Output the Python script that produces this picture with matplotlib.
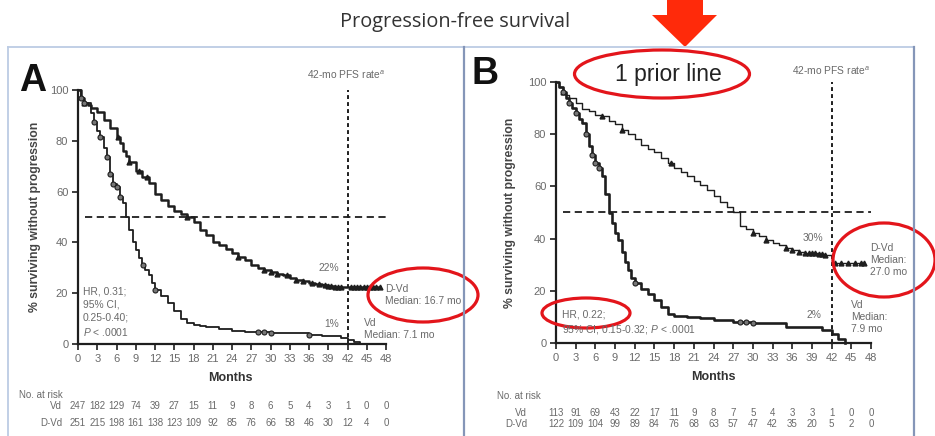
import numpy as np
import matplotlib
matplotlib.use('Agg')
import matplotlib.pyplot as plt
from matplotlib.patches import Ellipse, Polygon
from matplotlib.lines import Line2D
import matplotlib.transforms as mtransforms

plt.rcParams['font.family'] = ['Liberation Sans', 'DejaVu Sans']
plt.rcParams['mathtext.fontset'] = 'custom'
plt.rcParams['mathtext.it'] = 'Liberation Sans:italic'

# ---- data ----
months_ticks = np.arange(0, 49, 3)

# Panel A (all patients)
a_dvd_t = [0, 0.5, 1, 1.5, 2, 3, 4, 5, 6, 6.5, 7, 7.5, 8, 9, 10, 11, 12, 13, 14, 15, 16, 17, 18, 19,
           20, 21, 22, 23, 24, 25, 26, 27, 28, 29, 30, 31, 32, 33, 34, 35, 36, 37, 38, 39, 40, 41, 42, 47]
a_dvd_s = [100, 97, 95, 94, 93, 91.5, 88, 85, 81.6, 79, 76, 74, 71.8, 68, 65.9, 63.3, 59, 56.7, 54.5,
           52.5, 51, 50, 48, 45, 43, 40.3, 39, 37.5, 36, 34.4, 33, 31, 30, 29.1, 28.3, 27.5, 27, 26,
           25.3, 24.8, 24.2, 23.6, 23.2, 22.8, 22.6, 22.4, 22.3, 22.3]
a_vd_t = [0, 0.5, 1, 2, 2.5, 3, 3.5, 4, 4.5, 5, 5.5, 6, 6.5, 7, 7.5, 8, 8.5, 9, 9.5, 10, 10.5, 11,
          11.5, 12, 13, 14, 15, 16, 17, 18, 19, 20, 22, 24, 26, 30, 32, 36, 38, 40, 41, 42, 43, 44]
a_vd_s = [100, 97, 94.8, 91, 87.5, 84, 81.6, 77, 73.8, 67, 63, 62, 58, 55.4, 50, 45, 40, 37, 34, 31,
          29, 27, 24, 21.3, 19, 16, 13, 10, 8.1, 7.5, 7, 6.8, 6, 5, 4.9, 4.5, 4.3, 3.5, 3.3, 3, 2.2,
          1.6, 0.9, 0]
a_dvd_cens = [1, 6.2, 8, 9.5, 10.7, 17, 25, 29, 30, 31, 32.5, 34, 35, 36.5, 37.5, 38.5, 39, 39.5,
              40, 40.5, 41, 42.5, 43, 43.5, 44, 44.5, 45, 45.5, 46, 46.5, 47]
a_vd_cens = [0.5, 1, 2.5, 3.5, 4.5, 5, 5.5, 6, 6.5, 10.2, 12, 28, 29, 30, 36]
a_risk_vd = [247, 182, 129, 74, 39, 27, 15, 11, 9, 8, 6, 5, 4, 3, 1, 0, 0]
a_risk_dvd = [251, 215, 198, 161, 138, 123, 109, 92, 85, 76, 66, 58, 46, 30, 12, 4, 0]

# Panel B (1 prior line)
b_dvd_t = [0, 0.5, 1, 1.5, 2, 3, 4, 5, 6, 7, 8, 9, 10, 11, 12, 13, 14, 15, 16, 17, 18, 19, 20, 21,
           22, 23, 24, 25, 26, 27, 28, 29, 30, 31, 32, 33, 34, 35, 36, 37, 38, 39, 40, 41, 42, 47]
b_dvd_s = [100, 98, 96, 95, 94, 92, 89.5, 88.7, 87.5, 86.8, 85, 84, 81.7, 80, 78, 76, 74.5, 73, 71,
           69, 67, 65.5, 63.8, 62, 60.5, 58.5, 56.5, 54, 52, 50.3, 45, 43.5, 42, 41, 39.4, 38.5,
           37.5, 36.5, 35.5, 34.9, 34.5, 34.3, 34, 33.7, 30.5, 30.5]
b_vd_t = [0, 0.5, 1, 1.5, 2, 2.5, 3, 3.5, 4, 4.5, 5, 5.5, 6, 6.5, 7, 7.5, 8, 8.5, 9, 9.5, 10, 10.5,
          11, 11.5, 12, 13, 14, 15, 16, 17, 18, 20, 22, 24, 27, 30, 35, 37, 40.5, 42, 43, 44]
b_vd_s = [100, 98, 96, 94, 92, 90, 88, 86, 84.3, 80, 75.3, 72, 68.9, 67, 63.8, 57, 49.7, 46, 42,
          39.4, 35, 31, 27.9, 25, 22.8, 20.5, 18.9, 16.5, 13.8, 11.3, 10.5, 10, 9.5, 8.7, 8.2, 7.6,
          6.1, 6.1, 4.9, 3.6, 1.7, 0]
b_dvd_cens = [1, 7, 10, 17.5, 30, 32, 35, 36, 37, 38, 38.5, 39, 39.5, 40, 40.5, 41, 42.5, 43.5,
              44.5, 45.5, 46.5, 47]
b_vd_cens = [1, 2, 3, 4.5, 5.5, 6, 6.5, 12, 28, 29, 30]
b_risk_vd = [113, 91, 69, 43, 22, 17, 11, 9, 8, 7, 5, 4, 3, 3, 1, 0, 0]
b_risk_dvd = [122, 109, 104, 99, 89, 84, 76, 68, 63, 57, 47, 42, 35, 20, 5, 2, 0]

W, H = 935, 436
fig = plt.figure(figsize=(W / 100, H / 100), dpi=100)
fig.patch.set_facecolor('white')


def px(x, y):
    return x / W, 1 - y / H


def ftext(x, y, s, **kw):
    fx, fy = px(x, y)
    return fig.text(fx, fy, s, **kw)


def step_at(t, s, x):
    idx = np.searchsorted(t, x, side='right') - 1
    return np.asarray(s)[idx]


GRAY = '#6a6a6a'
INK = '#1e1e1e'
RED = '#e3151b'


def km_panel(rect, dvd_t, dvd_s, vd_t, vd_s, dvd_c, vd_c, lw_dvd, lw_vd):
    ax = fig.add_axes(rect)
    ax.plot(dvd_t, dvd_s, drawstyle='steps-post', color=INK, lw=lw_dvd, clip_on=False)
    ax.plot(vd_t, vd_s, drawstyle='steps-post', color=INK, lw=lw_vd, clip_on=False)
    ax.plot(dvd_c, step_at(dvd_t, dvd_s, dvd_c), ls='none', marker='^', ms=3.5,
            color=INK, clip_on=False)
    ax.plot(vd_c, step_at(vd_t, vd_s, vd_c), ls='none', marker='o', ms=3.6,
            mfc='#777777', mec=INK, mew=0.8, clip_on=False)
    ax.plot([1.1, 48], [50, 50], ls=(0, (4, 2.5)), color=INK, lw=1.3, clip_on=False)
    ax.plot([42, 42], [0, 100], ls=(0, (2, 1.6)), color=INK, lw=1.4, clip_on=False)
    ax.set_xlim(0, 48)
    ax.set_ylim(0, 100)
    ax.set_xticks(months_ticks)
    ax.set_yticks([0, 20, 40, 60, 80, 100])
    ax.tick_params(direction='out', length=4, width=1.2, colors=INK, labelcolor=GRAY,
                   labelsize=8, pad=3)
    for sp in ['top', 'right']:
        ax.spines[sp].set_visible(False)
    for sp in ['left', 'bottom']:
        ax.spines[sp].set_linewidth(1.6)
        ax.spines[sp].set_color(INK)
    ax.patch.set_alpha(0)
    return ax


# panel frames
LIGHT, DARK = '#bccce4', '#8596b8'


def fline(xs, ys, c, lw=1.3):
    p = [px(x, y) for x, y in zip(xs, ys)]
    fig.add_artist(Line2D([p[0][0], p[1][0]], [p[0][1], p[1][1]], color=c, lw=lw))


fline([8, 914], [47, 47], LIGHT)
fline([8, 8], [47, H + 5], LIGHT)
fline([464, 464], [47, H + 5], DARK, 1.6)
fline([914, 914], [47, H + 5], DARK, 1.6)

# ---- Panel A ----
axA = km_panel([78 / W, (H - 344) / H, 308 / W, 254 / H], a_dvd_t, a_dvd_s, a_vd_t, a_vd_s,
               a_dvd_cens, a_vd_cens, 1.8, 1.3)
# ---- Panel B ----
axB = km_panel([556 / W, (H - 343) / H, 315 / W, 261 / H], b_dvd_t, b_dvd_s, b_vd_t, b_vd_s,
               b_dvd_cens, b_vd_cens, 1.0, 1.9)

ann = dict(color=GRAY, fontsize=7.4)

# Panel A texts
ftext(19, 81, 'A', fontsize=27, fontweight='bold', color='#111', ha='left', va='center')
ftext(346, 75, '42-mo PFS rate$^a$', ha='center', va='center', **ann)
ftext(329, 268, '22%', ha='center', va='center', **ann)
ftext(332, 324, '1%', ha='center', va='center', **ann)
ftext(385, 295, 'D-Vd\nMedian: 16.7 mo', ha='left', va='center', linespacing=1.3, **ann)
ftext(364, 329, 'Vd\nMedian: 7.1 mo', ha='left', va='center', linespacing=1.3, **ann)
ftext(83, 312, 'HR, 0.31;\n95% CI,\n0.25-0.40;\n$\\it{P}$ < .0001', ha='left', va='center',
      linespacing=1.35, **ann)
ftext(230, 378, 'Months', ha='center', va='center', fontsize=9, fontweight='bold', color='#333')
ftext(35, 217, '% surviving without progression', ha='center', va='center', rotation=90,
      fontsize=8.8, fontweight='bold', color='#444')

# Panel B texts
ftext(472, 74, 'B', fontsize=27, fontweight='bold', color='#111', ha='left', va='center')
ftext(668, 75, '1 prior line', ha='center', va='center', fontsize=16.5, color='#222')
ftext(831, 71, '42-mo PFS rate$^a$', ha='center', va='center', **ann)
ftext(813, 238, '30%', ha='center', va='center', **ann)
ftext(814, 315, '2%', ha='center', va='center', **ann)
ftext(870, 260, 'D-Vd\nMedian:\n27.0 mo', ha='left', va='center', linespacing=1.3, **ann)
ftext(851, 317, 'Vd\nMedian:\n7.9 mo', ha='left', va='center', linespacing=1.3, **ann)
ftext(562, 323, 'HR, 0.22;\n95% CI, 0.15-0.32; $\\it{P}$ < .0001', ha='left', va='center',
      linespacing=1.4, **ann)
ftext(713, 377, 'Months', ha='center', va='center', fontsize=9, fontweight='bold', color='#333')
ftext(510, 213, '% surviving without progression', ha='center', va='center', rotation=90,
      fontsize=8.8, fontweight='bold', color='#444')

# number at risk tables
risk = dict(color=GRAY, fontsize=7)


def risk_table(ax, label_x, head_x, head_y, y_vd, y_dvd, vd, dvd):
    ftext(head_x, head_y, 'No. at risk', ha='left', va='center', **risk)
    ftext(label_x, y_vd, 'Vd', ha='right', va='center', **risk)
    ftext(label_x, y_dvd, 'D-Vd', ha='right', va='center', **risk)
    tr = mtransforms.blended_transform_factory(ax.transData, fig.transFigure)
    for m, v, d in zip(months_ticks, vd, dvd):
        ax.text(m, px(0, y_vd)[1], str(v), transform=tr, ha='center', va='center', **risk)
        ax.text(m, px(0, y_dvd)[1], str(d), transform=tr, ha='center', va='center', **risk)


risk_table(axA, 62, 19, 395, 406, 423, a_risk_vd, a_risk_dvd)
risk_table(axB, 527, 497, 396, 413, 424, b_risk_vd, b_risk_dvd)

# title and arrow
ftext(455, 22, 'Progression-free survival', ha='center', va='center', fontsize=14.3,
      family=['Open Sans'], color='#333')
arrow_px = [(667, 0), (703, 0), (703, 15), (717, 15), (685, 47), (652, 15), (667, 15)]
fig.add_artist(Polygon([px(x, y) for x, y in arrow_px], closed=True, transform=fig.transFigure,
                       facecolor='#ff2a0a', edgecolor='none'))

# red highlight ellipses
for cx, cy, w, h in [(423, 295, 110, 54), (662, 74, 175, 48), (884, 260, 102, 74),
                     (586, 313, 88, 30)]:
    fx, fy = px(cx, cy)
    fig.add_artist(Ellipse((fx, fy), w / W, h / H, transform=fig.transFigure, fill=False,
                           edgecolor=RED, lw=2.3))

fig.savefig('out.png', dpi=100)
